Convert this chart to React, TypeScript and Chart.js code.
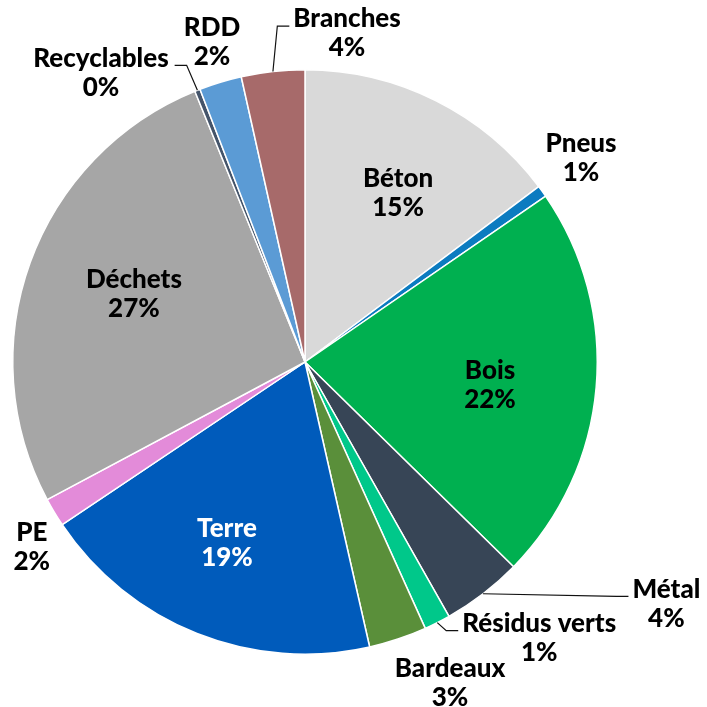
import React, { useEffect, useRef } from "react";
import { Chart, registerables } from "chart.js";

Chart.register(...registerables);

const categories = [
  "Béton",
  "Pneus",
  "Bois",
  "Métal",
  "Résidus verts",
  "Bardeaux",
  "Terre",
  "PE",
  "Déchets",
  "Recyclables",
  "RDD",
  "Branches",
];

const shares = [14.75, 0.65, 21.95, 4.45, 1.45, 3.2, 19.15, 1.6, 26.65, 0.3, 2.35, 3.5];

const sliceColors = [
  "#d9d9d9",
  "#0b7bc0",
  "#00b050",
  "#374556",
  "#00c88a",
  "#5a8f3a",
  "#005bbb",
  "#e38bd9",
  "#a6a6a6",
  "#44546a",
  "#5b9bd5",
  "#a76a6a",
];

const labelColors = ["#000", "#000", "#000", "#000", "#000", "#000", "#fff", "#000", "#000", "#000", "#000", "#000"];

// label block placement: radius factor (of outer radius) and angle (deg, clockwise from 12 o'clock)
const labelPlacement: [number, number][] = [
  [0.661, 28.8],
  [1.175, 53.5],
  [0.638, 97.1],
  [1.488, 123.8],
  [1.239, 139.7],
  [1.206, 155.7],
  [0.675, 203.3],
  [1.129, 235.9],
  [0.63, 291.7],
  [1.211, 324.8],
  [1.141, 343.8],
  [1.133, 7.3],
];

// leader line: 0 none, 1 label on right of line end, -1 label on left of line end
const leaderSide = [0, 0, 0, 1, 1, 0, 0, 0, 0, -1, 0, 1];

const FONT = "900 26px Lato";
const LINE_H = 29;

const labelPlugin = {
  id: "pieLabels",
  afterDatasetsDraw(chart: any) {
    const ctx = chart.ctx;
    const meta = chart.getDatasetMeta(0);
    const data = chart.data.datasets[0].data as number[];
    const total = data.reduce((a, b) => a + b, 0);
    ctx.save();
    ctx.font = FONT;
    ctx.textAlign = "center";
    ctx.textBaseline = "middle";
    meta.data.forEach((arc: any, i: number) => {
      const { x: cx, y: cy, outerRadius: R, startAngle, endAngle } = arc.getProps(
        ["x", "y", "outerRadius", "startAngle", "endAngle"],
        true
      );
      const [rf, deg] = labelPlacement[i];
      const th = ((deg - 90) * Math.PI) / 180;
      const bx = cx + rf * R * Math.cos(th);
      const by = cy + rf * R * Math.sin(th);
      const pct = Math.round((data[i] / total) * 100 + 1e-9) + "%";
      const l1 = categories[i];
      const y1 = by - LINE_H / 2;
      const y2 = by + LINE_H / 2;
      const side = leaderSide[i];
      if (side !== 0) {
        const mid = (startAngle + endAngle) / 2;
        const sx = cx + R * Math.cos(mid);
        const sy = cy + R * Math.sin(mid);
        const w = ctx.measureText(l1).width;
        const ex = side > 0 ? bx - w / 2 - 4 : bx + w / 2 + 6;
        const ey = y1 + 7;
        const elx = ex - side * 12;
        ctx.strokeStyle = "#111";
        ctx.lineWidth = 1.2;
        ctx.beginPath();
        ctx.moveTo(sx, sy);
        ctx.lineTo(elx, ey);
        ctx.lineTo(ex, ey);
        ctx.stroke();
      }
      ctx.fillStyle = labelColors[i];
      ctx.fillText(l1, bx, y1);
      ctx.fillText(pct, bx, y2);
    });
    ctx.restore();
  },
};

export default function App() {
  const ref = useRef<HTMLCanvasElement | null>(null);
  useEffect(() => {
    if (!ref.current) return;
    const chart = new Chart(ref.current, {
      type: "pie",
      data: {
        labels: categories,
        datasets: [
          {
            data: shares,
            backgroundColor: sliceColors,
            borderColor: "#ffffff",
            borderWidth: 1.5,
          },
        ],
      },
      options: {
        responsive: false,
        animation: false,
        layout: { padding: { left: 12, right: 109, top: 69, bottom: 52 } },
        plugins: {
          legend: { display: false },
          tooltip: { enabled: false },
        },
      },
      plugins: [labelPlugin],
    });
    return () => chart.destroy();
  }, []);
  return (
    <div style={{ position: "fixed", left: 0, top: 0, width: 707, height: 707, background: "#fff" }}>
      <canvas ref={ref} width={707} height={707} style={{ display: "block" }} />
    </div>
  );
}
